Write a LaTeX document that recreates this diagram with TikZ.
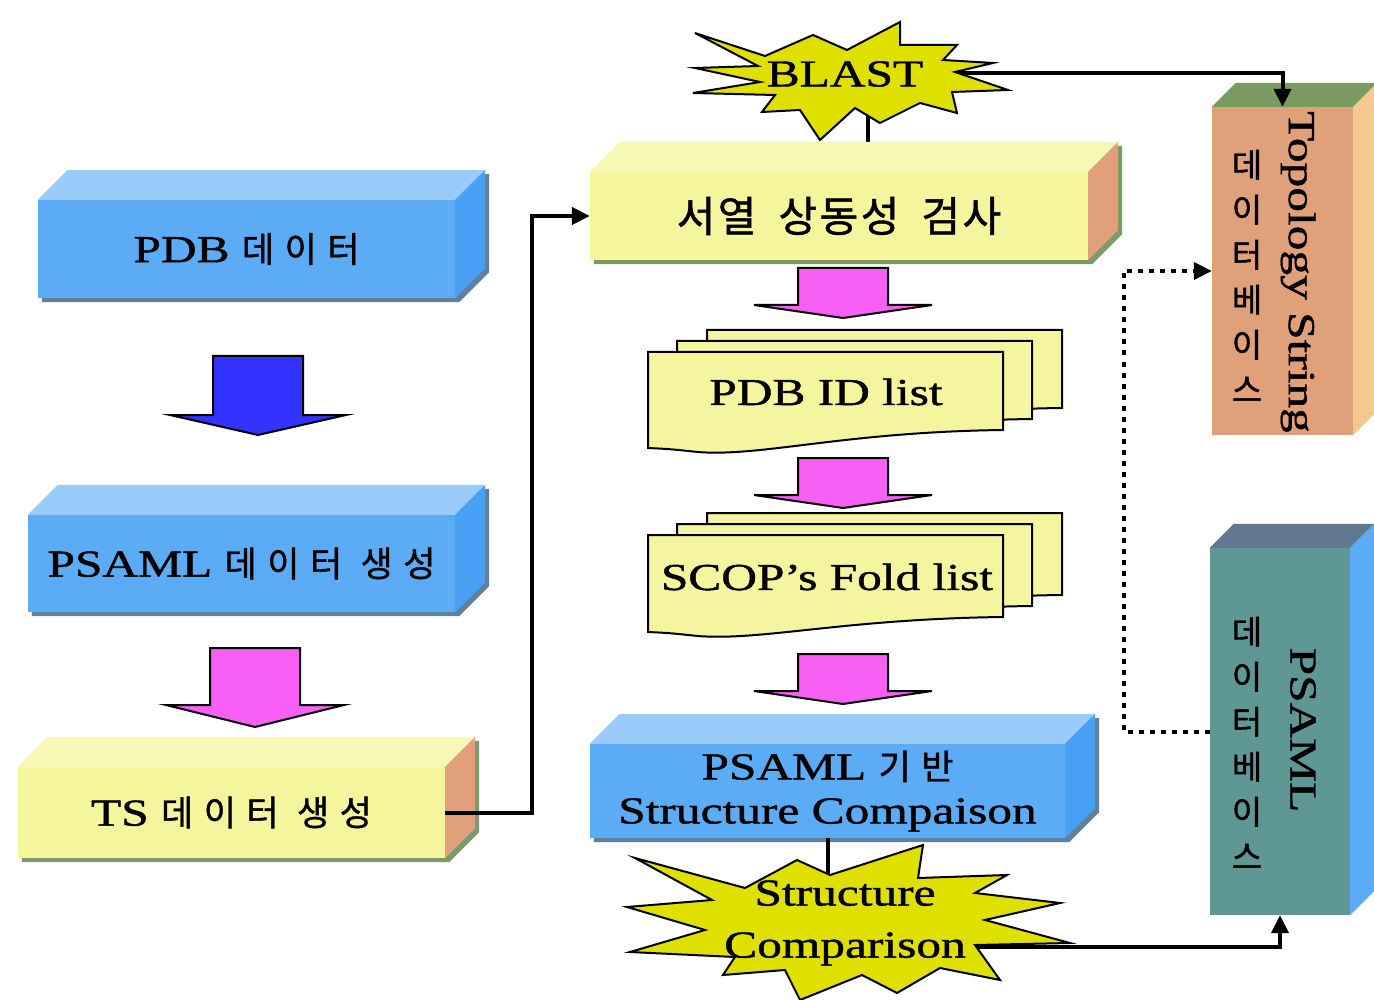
\documentclass[tikz,border=0pt]{standalone}
\usepackage{fontspec}
\setmainfont{Liberation Serif}[FakeStretch=1.3,FakeBold=1.2]
\newfontfamily\kr{Noto Sans CJK KR}[LetterSpace=30,FakeBold=1.2]
\newfontfamily\krw{Noto Sans CJK KR}[LetterSpace=6,FakeBold=1.2]
\newfontfamily\krp{Noto Sans CJK KR}[FakeBold=1.2]
\usetikzlibrary{arrows.meta,calc}
\pgfdeclarelayer{bg}
\pgfsetlayers{bg,main}
\definecolor{bfront}{RGB}{92,172,245}
\definecolor{btop}{RGB}{153,204,248}
\definecolor{bside}{RGB}{72,160,245}
\definecolor{bshadow}{RGB}{96,128,160}
\definecolor{yfront}{RGB}{245,245,158}
\definecolor{ytop}{RGB}{248,248,182}
\definecolor{yside}{RGB}{224,160,124}
\definecolor{yshadow}{RGB}{122,154,104}
\definecolor{ttop}{RGB}{122,154,96}
\definecolor{tfront}{RGB}{224,160,122}
\definecolor{tside}{RGB}{245,200,144}
\definecolor{ptop}{RGB}{96,120,144}
\definecolor{pfront}{RGB}{95,151,149}
\definecolor{pside}{RGB}{92,172,245}
\definecolor{staryel}{RGB}{224,224,0}
\definecolor{pinkarr}{RGB}{248,96,245}
\definecolor{bluearr}{RGB}{51,51,255}
\definecolor{docyel}{RGB}{245,245,160}
\newcommand\K[1]{{\kr\mdseries\fontsize{35}{40}\selectfont #1}}
\newcommand\KW[1]{{\krw\mdseries\fontsize{42}{48}\selectfont #1}}
\def\dep{30}
% name, position, width, height, front, top, side, shadow, text
\newcommand\cubebox[9]{%
  \node[lat, align=center, fill=#5, minimum width=#3, minimum height=#4, inner sep=0pt] (#1) at #2 {#9};
  \begin{pgfonlayer}{bg}
    \fill[#8] ($(#1.north west)+(4,4)$) -- ($(#1.south west)+(4,4)$) -- ($(#1.south east)+(4,4)$)
      -- ($(#1.south east)+(\dep+4,-\dep+4)$) -- ($(#1.north east)+(\dep+4,-\dep+4)$) -- cycle;
  \end{pgfonlayer}
  \fill[#6] (#1.north west) -- ($(#1.north west)+(\dep,-\dep)$) -- ($(#1.north east)+(\dep,-\dep)$) -- (#1.north east) -- cycle;
  \fill[#7] (#1.north east) -- ($(#1.north east)+(\dep,-\dep)$) -- ($(#1.south east)+(\dep,-\dep)$) -- (#1.south east) -- cycle;
}
% cx, top, shaft half width, shaft height, wing half width, tip depth, colour
\newcommand\blockarrow[7]{%
  \filldraw[fill=#7, draw=black, line width=2pt]
    (#1-#3,#2) -- (#1+#3,#2) -- (#1+#3,#2+#4) -- (#1+#5,#2+#4) -- (#1,#2+#4+#6)
    -- (#1-#5,#2+#4) -- (#1-#3,#2+#4) -- cycle;
}
% x0, y0, w, right height, left height
\newcommand\docpage[5]{%
  \filldraw[fill=docyel, draw=black, line width=2pt]
    (#1,#2) -- (#1+#3,#2) -- (#1+#3,#2+#4)
    .. controls (#1+0.55*#3,#2+#4+2) and (#1+0.32*#3,#2+#5+9) .. (#1+0.14*#3,#2+#5+4)
    .. controls (#1+0.06*#3,#2+#5+1) .. (#1,#2+#5) -- cycle;
}
\newcommand\docstack[5]{%
  \docpage{#1+59}{#2-22}{#3}{#4}{#5}
  \docpage{#1+29}{#2-11}{#3}{#4}{#5}
  \docpage{#1}{#2}{#3}{#4}{#5}
}
\begin{document}
\begin{tikzpicture}[x=1pt,y=-1pt,
  lat/.style={font=\fontsize{38}{44}\selectfont},
  conn/.style={line width=4pt},
  arr/.style={-{Triangle[length=18pt,width=17pt]}},
  dotconn/.style={line width=4pt, dash pattern=on 5pt off 6pt},
  starline/.style={fill=staryel, draw=black, line width=2pt, line join=miter}]
\useasboundingbox (0,0) rectangle (1374,1000);
\begin{pgfonlayer}{bg}
\fill[white] (0,0) rectangle (1374,1000);
\end{pgfonlayer}

% left column
\cubebox{pdb}{(246.5,249)}{417}{98}{bfront}{btop}{bside}{bshadow}{PDB \K{데이터}}
\cubebox{psg}{(241.5,563.5)}{427}{97}{bfront}{btop}{bside}{bshadow}{PSAML \K{데이터 생성}}
\cubebox{ts}{(231.5,812.5)}{427}{91}{yfront}{ytop}{yside}{yshadow}{TS \K{데이터 생성}}
\blockarrow{258}{356}{45}{59}{88}{20}{bluearr}
\blockarrow{255}{648}{45}{57}{89}{22}{pinkarr}

% middle column
\coordinate (blastB) at (868,100);
\draw[conn] (blastB) -- (868,160);
\cubebox{seq}{(839,216)}{498}{88}{yfront}{ytop}{yside}{yshadow}{\KW{서열\hspace{22pt}상동성\hspace{22pt}검사}}
\blockarrow{843}{268}{45}{37}{89}{13}{pinkarr}
\docstack{648}{352}{355}{78}{96}
\node[lat] (pdbl) at (826,392) {PDB ID list};
\blockarrow{843}{458}{45}{37}{89}{13}{pinkarr}
\docstack{648}{535}{355}{82}{97}
\node[lat] (scop) at (827,577) {SCOP's Fold list};
\blockarrow{843}{654}{45}{37}{89}{13}{pinkarr}
\cubebox{cmp}{(827.5,791)}{475}{94}{bfront}{btop}{bside}{bshadow}{\fontsize{38}{53}\selectfont PSAML \K{기반}\\Structure Compaison}

% right column
\def\dep{24}
\cubebox{topo}{(1282.5,271)}{141}{328}{tfront}{ttop}{tside}{white}{}
\cubebox{psdb}{(1280,731.5)}{140}{367}{pfront}{ptop}{pside}{white}{}
\node[lat, rotate=-90] (topotxt) at (1298,272) {Topology String};
\node[align=center, font=\krp\fontsize{33}{45}\selectfont] (topokr) at (1247,276) {데\\이\\터\\베\\이\\스};
\node[lat, rotate=-90] (psamltxt) at (1303,730) {PSAML};
\node[align=center, font=\krp\fontsize{33}{45}\selectfont] (psamlkr) at (1247,743) {데\\이\\터\\베\\이\\스};

% connectors
\coordinate (strcR) at (950,947);
\draw[conn, arr] (ts.east) -- ++(87,0) |- (seq.west);
\draw[conn] (blastB) -- (868,140);
\draw[conn, arr] (845,73) -| (topo.north);
\draw[conn] (cmp.south) -- ++(0,50);
\draw[conn, arr] (strcR) -| (psdb.south);
\draw[dotconn, arr] (psdb.west) -- ++(-86,0) |- (topo.west);

% stars
\filldraw[starline] (695,33) -- (765,56) -- (813,35) -- (847,50) -- (900,22) -- (900,45)
  -- (957,45) -- (943,60) -- (993,63) -- (955,72) -- (1008,90) -- (952,92) -- (957,113)
  -- (920,103) -- (880,123) -- (855,108) -- (820,140) -- (800,110) -- (762,112) -- (775,95)
  -- (693,93) -- (760,82) -- (695,68) -- (758,66) -- cycle;
\node[lat] (blast) at (845,74) {BLAST};
\filldraw[starline] (635,858) -- (745,888) -- (797,860) -- (830,875) -- (923,845) -- (918,878)
  -- (1007,875) -- (975,893) -- (1060,903) -- (985,920) -- (1070,943) -- (975,945)
  -- (1000,980) -- (940,968) -- (897,993) -- (862,975) -- (800,1000) -- (785,970)
  -- (723,975) -- (735,957) -- (630,952) -- (705,930) -- (627,907) -- (712,900) -- cycle;
\node[align=center, font=\fontsize{38}{52}\selectfont] (strc) at (845,923) {Structure\\Comparison};
\end{tikzpicture}
\end{document}
